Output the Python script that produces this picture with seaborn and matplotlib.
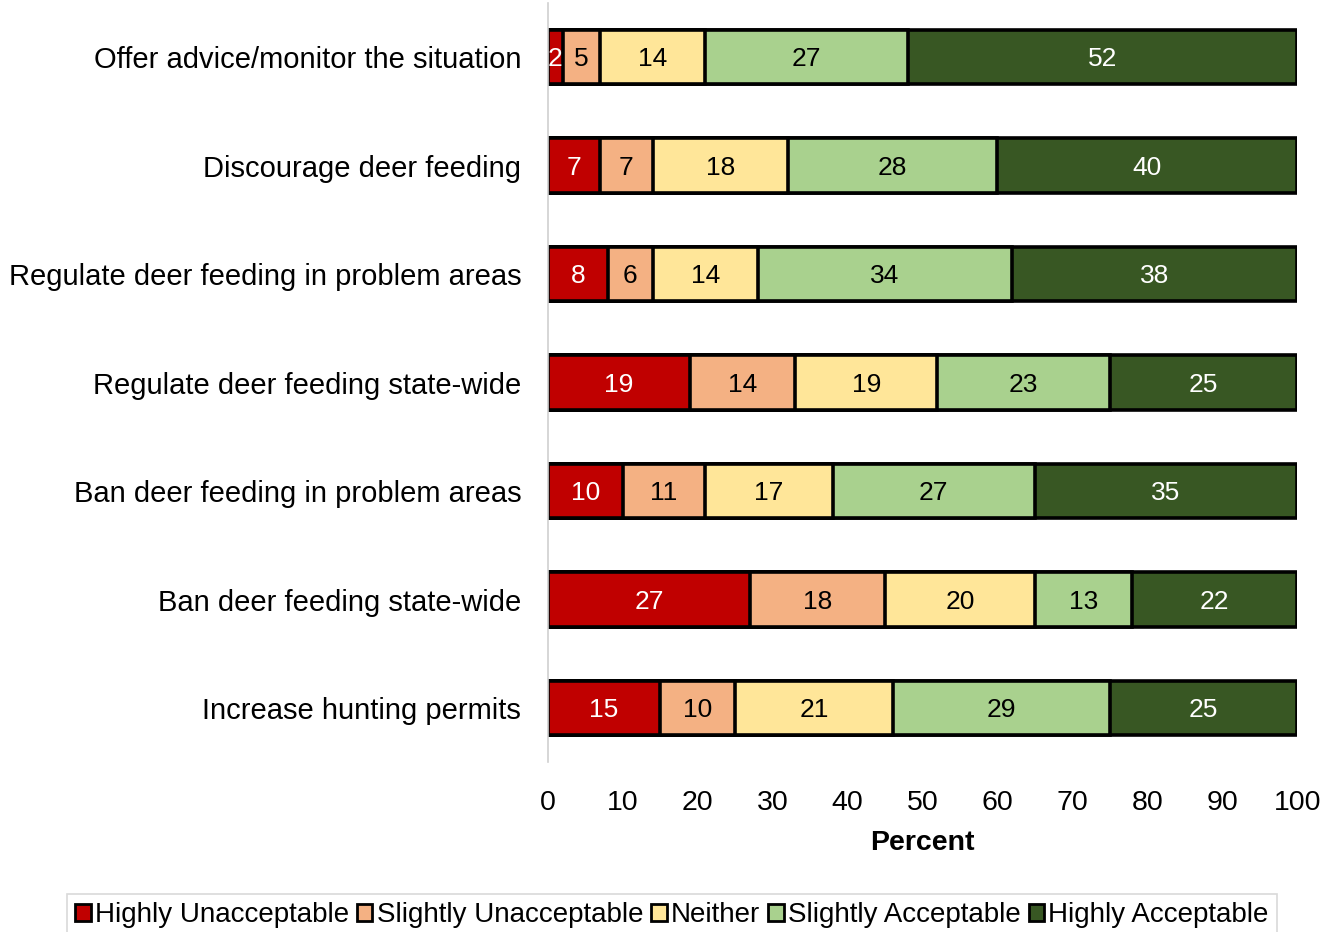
import numpy as np
import pandas as pd
import matplotlib
matplotlib.use("Agg")
import matplotlib.pyplot as plt
import seaborn as sns
from matplotlib.patches import Patch

categories = [
    "Offer advice/monitor the situation",
    "Discourage deer feeding",
    "Regulate deer feeding in problem areas",
    "Regulate deer feeding state-wide",
    "Ban deer feeding in problem areas",
    "Ban deer feeding state-wide",
    "Increase hunting permits",
]
responses = ["Highly Unacceptable", "Slightly Unacceptable", "Neither",
             "Slightly Acceptable", "Highly Acceptable"]
highly_unacceptable = [2, 7, 8, 19, 10, 27, 15]
slightly_unacceptable = [5, 7, 6, 14, 11, 18, 10]
neither = [14, 18, 14, 19, 17, 20, 21]
slightly_acceptable = [27, 28, 34, 23, 27, 13, 29]
highly_acceptable = [52, 40, 38, 25, 35, 22, 25]
colors = ["#C00000", "#F4B183", "#FFE699", "#A9D18E", "#385723"]
text_colors = ["white", "black", "black", "black", "white"]

series = [highly_unacceptable, slightly_unacceptable, neither,
          slightly_acceptable, highly_acceptable]

sns.set_theme(style="white")
plt.rcParams["font.family"] = ["Liberation Sans", "DejaVu Sans"]
plt.rcParams["text.color"] = "black"
plt.rcParams["xtick.color"] = "black"
plt.rcParams["ytick.color"] = "black"
plt.rcParams["axes.labelcolor"] = "black"

fig = plt.figure(figsize=(13.36, 9.32), dpi=100)
ax = fig.add_axes([0.410, 0.182, 0.561, 0.815])

vals = np.array(series, dtype=float)
cum = np.cumsum(vals, axis=0)

# Draw cumulative totals from the outermost segment inward so each stack overlays
for i in range(len(responses) - 1, -1, -1):
    df = pd.DataFrame({"category": categories, "total": cum[i]})
    sns.barplot(data=df, x="total", y="category", orient="h", color=colors[i],
                width=0.5, edgecolor="black", linewidth=2.6, saturation=1,
                ax=ax, order=categories)

for i in range(len(responses)):
    for j, cat in enumerate(categories):
        v = vals[i, j]
        xc = cum[i, j] - v / 2
        ax.text(xc, j + 0.02, f"{int(v)}", ha="center", va="center",
                fontsize=19, color=text_colors[i])

ax.set_xlim(0, 100)
ax.set_ylim(6.5, -0.5)
ax.set_xticks(range(0, 101, 10))
ax.tick_params(axis="x", labelsize=20.5, length=0, pad=20)
ax.tick_params(axis="y", labelsize=21, length=0, pad=19)
ax.set_ylabel("")
ax.set_xlabel("Percent", fontsize=20.5, fontweight="bold", labelpad=10)
for s in ["top", "right", "bottom"]:
    ax.spines[s].set_visible(False)
ax.spines["left"].set_color("#D0D0D0")
ax.spines["left"].set_linewidth(1.2)
ax.grid(False)

handles = [Patch(facecolor=c, edgecolor="black", linewidth=2) for c in colors]
leg = fig.legend(handles, responses, loc="lower center", ncol=5,
                 bbox_to_anchor=(0.503, -0.02), fontsize=20, frameon=True,
                 fancybox=False, edgecolor="#D0D0D0", handlelength=0.55,
                 handleheight=0.55, handletextpad=0.15, columnspacing=0.3,
                 borderpad=0.3)
leg.get_frame().set_linewidth(1.2)

fig.savefig("out.png", dpi=100)
